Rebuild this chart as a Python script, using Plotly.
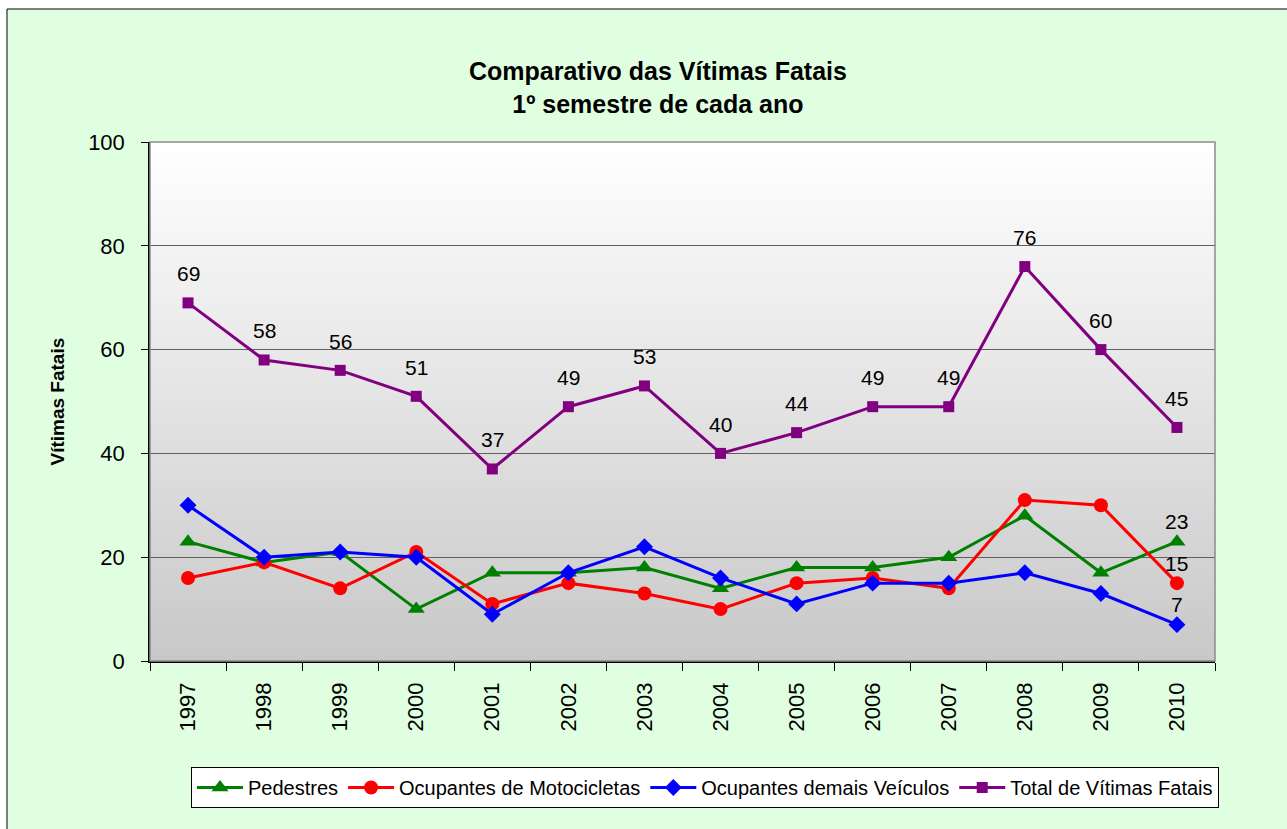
import plotly.graph_objects as go

anos = ["1997", "1998", "1999", "2000", "2001", "2002", "2003",
        "2004", "2005", "2006", "2007", "2008", "2009", "2010"]
pedestres = [23, 19, 21, 10, 17, 17, 18, 14, 18, 18, 20, 28, 17, 23]
motocicletas = [16, 19, 14, 21, 11, 15, 13, 10, 15, 16, 14, 31, 30, 15]
demais_veiculos = [30, 20, 21, 20, 9, 17, 22, 16, 11, 15, 15, 17, 13, 7]
total = [69, 58, 56, 51, 37, 49, 53, 40, 44, 49, 49, 76, 60, 45]

W, H = 1287, 829
L, R, T, B = 150, 1215, 142, 661  # plot area in pixels
FONT = "Arial, Liberation Sans, sans-serif"


def px_x(p):
    return (p - L) / (R - L)


def px_y(p):
    return (B - p) / (B - T)


fig = go.Figure()

series = [
    ("Pedestres", pedestres, "#008000", "triangle-up", 15),
    ("Ocupantes de Motocicletas", motocicletas, "#FF0000", "circle", 14),
    ("Ocupantes demais Veículos", demais_veiculos, "#0000FF", "diamond", 13),
    ("Total de Vítimas Fatais", total, "#800080", "square", 11),
]
for name, vals, color, sym, size in series:
    fig.add_trace(go.Scatter(
        x=anos, y=vals, name=name, mode="lines+markers",
        line=dict(color=color, width=3),
        marker=dict(symbol=sym, size=size, color=color, line=dict(width=0)),
    ))

shapes = []
# chart area (light green, black border)
shapes.append(dict(type="rect", xref="paper", yref="paper",
                   x0=px_x(7), x1=px_x(1300), y0=px_y(845), y1=px_y(9),
                   fillcolor="#E0FFE0", line=dict(color="#000000", width=1),
                   layer="below"))
# gradient plot background
N = 80
for i in range(N):
    f0 = i / N
    f1 = (i + 1) / N
    fm = (i + 0.5) / N  # 0 bottom -> 1 top
    v = int(round(200 + 55 * fm))
    shapes.append(dict(type="rect", xref="x domain", yref="y domain",
                       x0=0, x1=1, y0=f0, y1=f1 + 0.002,
                       fillcolor=f"rgb({v},{v},{v})", line=dict(width=0),
                       layer="below"))
# plot area border (top/right gray)
shapes.append(dict(type="rect", xref="x domain", yref="y domain",
                   x0=0, x1=1, y0=0, y1=1,
                   fillcolor="rgba(0,0,0,0)", line=dict(color="#8C8C8C", width=1.5),
                   layer="above"))

annotations = []
for i, v in enumerate(total):
    annotations.append(dict(x=i, y=v, xref="x", yref="y", text=str(v), showarrow=False,
                            yshift=29, font=dict(family=FONT, size=21, color="#000000")))
last = len(anos) - 1
for vals in (pedestres, motocicletas, demais_veiculos):
    annotations.append(dict(x=last, y=vals[-1], xref="x", yref="y", text=str(vals[-1]),
                            showarrow=False, yshift=20,
                            font=dict(family=FONT, size=21, color="#000000")))
# y-axis title
annotations.append(dict(xref="paper", yref="paper", x=px_x(57), y=0.5,
                        xanchor="center", yanchor="middle",
                        text="<b>Vítimas Fatais</b>", textangle=-90, showarrow=False,
                        font=dict(family=FONT, size=19, color="#000000")))
# chart title
annotations.append(dict(xref="paper", yref="paper", x=px_x(658), y=px_y(88),
                        xanchor="center", yanchor="middle",
                        text="<b>Comparativo das Vítimas Fatais<br>1º semestre de cada ano</b>",
                        showarrow=False, align="center",
                        font=dict(family=FONT, size=25, color="#000000")))

fig.update_layout(
    width=W, height=H,
    margin=dict(l=L, r=W - R, t=T, b=H - B, pad=0),
    paper_bgcolor="#FFFFFF",
    plot_bgcolor="#FFFFFF",
    font=dict(family=FONT, color="#000000"),
    shapes=shapes,
    annotations=annotations,
    showlegend=True,
    legend=dict(orientation="h", xref="paper", yref="paper",
                x=px_x(705), xanchor="center", y=px_y(767), yanchor="top",
                bgcolor="#FFFFFF", bordercolor="#000000", borderwidth=1,
                font=dict(family=FONT, size=20, color="#000000"),
                itemwidth=46, tracegroupgap=0),
    xaxis=dict(type="category", range=[-0.5, len(anos) - 0.5],
               showgrid=False, showline=True, linecolor="#000000", linewidth=1.5,
               ticks="outside", tickson="boundaries", ticklen=8, tickcolor="#000000",
               tickangle=-90, tickfont=dict(family=FONT, size=22, color="#000000"),
               automargin=False, ticklabelstandoff=11),
    yaxis=dict(range=[0, 100], dtick=20, showgrid=True, gridcolor="#606060", gridwidth=1,
               showline=True, linecolor="#000000", linewidth=1.5, zeroline=False,
               ticks="outside", ticklen=7, tickcolor="#000000",
               tickfont=dict(family=FONT, size=22, color="#000000"),
               automargin=False, ticklabelstandoff=12),
)

fig.write_html("out.html", config={"displayModeBar": False},
               post_script="document.body.style.margin='0';")
